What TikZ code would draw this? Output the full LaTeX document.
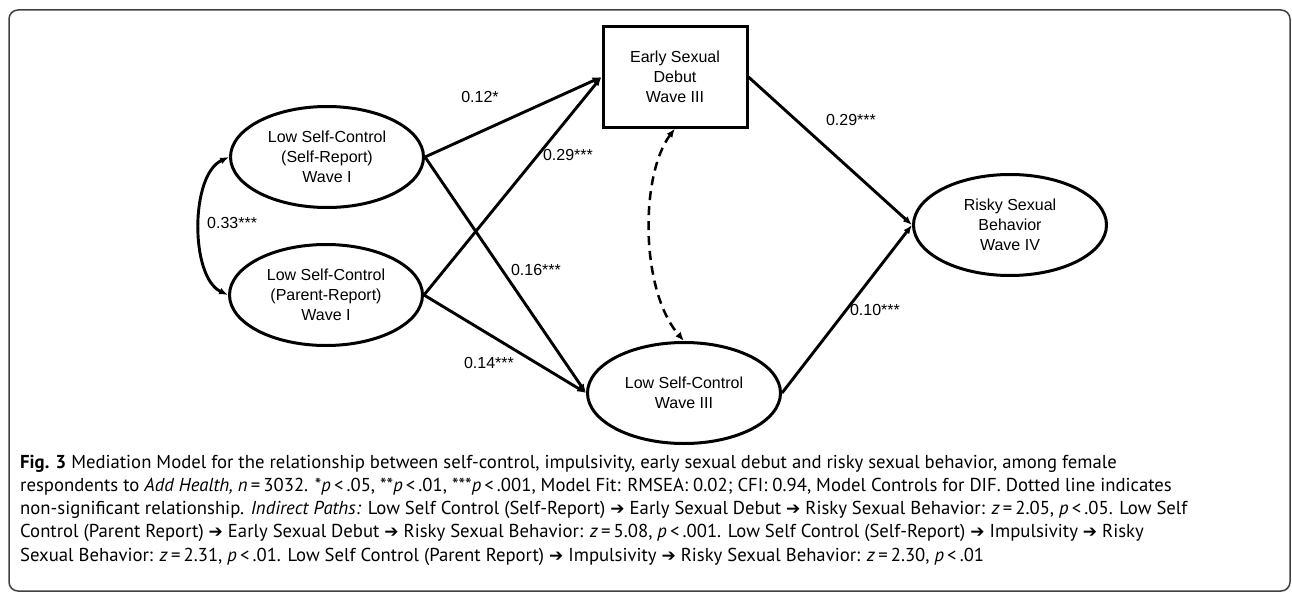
\documentclass[tikz,border=0pt]{standalone}
\usepackage{fontspec}
\setmainfont{Liberation Sans}
\newfontfamily\capfont{PT Sans}
\newfontfamily\symfont{DejaVu Sans}
\usetikzlibrary{shapes.geometric,arrows.meta}
\newcommand{\rarr}{{\symfont\fontsize{17}{17}\selectfont ➔}}
\begin{document}
\begin{tikzpicture}[x=1pt,y=-1pt,
  lv/.style={ellipse,draw,line width=3pt,minimum width=193pt,minimum height=101pt,inner sep=0pt,align=center,font=\fontsize{16}{20}\selectfont},
  ov/.style={rectangle,draw,line width=3pt,minimum width=144pt,minimum height=100pt,inner sep=0pt,align=center,font=\fontsize{16}{20}\selectfont},
  path/.style={line width=2.9pt,-{Latex[length=9pt,width=7pt]}},
  cov/.style={line width=2.9pt,{Latex[length=9pt,width=7pt]}-{Latex[length=9pt,width=7pt]}},
  ns/.style={line width=2.5pt,dash pattern=on 9pt off 6pt,{Latex[length=9pt,width=7pt]}-{Latex[length=9pt,width=7pt]}},
  coef/.style={font=\fontsize{16}{20}\selectfont,inner sep=0pt},
  capline/.style={anchor=base west,inner sep=0pt,font=\capfont\fontsize{18.7}{23}\selectfont}
]
\useasboundingbox (0,0) rectangle (1292,594);
\draw[line width=1.5pt,draw=black!75,rounded corners=9pt] (9,10) rectangle (1290,591);

\node[lv] (sr) at (327,157) {Low Self-Control\\(Self-Report)\\Wave I};
\node[lv] (pr) at (326,295) {Low Self-Control\\(Parent-Report)\\Wave I};
\node[ov] (esd) at (675,77) {Early Sexual\\Debut\\Wave III};
\node[lv] (lsc) at (684,393) {Low Self-Control\\Wave III};
\node[lv] (rsb) at (1010,225) {Risky Sexual\\Behavior\\Wave IV};

\draw[path] (sr.east) -- (esd.west);
\draw[path] (pr.east) -- (esd.west);
\draw[path] (sr.east) -- (lsc.west);
\draw[path] (pr.east) -- (lsc.west);
\draw[path] (esd.east) -- (rsb.west);
\draw[path] (lsc.east) -- (rsb.west);
\draw[cov] (sr.west) .. controls (190,175) and (190,277) .. (pr.west);
\draw[ns] (esd.south) .. controls (640,175) and (640,290) .. (lsc.north);

\node[coef] (c1) at (480,97) {0.12*};
\node[coef] (c2) at (568,155) {0.29***};
\node[coef] (c3) at (536,270) {0.16***};
\node[coef] (c4) at (489,363) {0.14***};
\node[coef] (c5) at (851,120) {0.29***};
\node[coef] (c6) at (875,310) {0.10***};
\node[coef,anchor=west] (c7) at (207,223) {0.33***};

\node[capline] (l1) at (20,468) {\textbf{Fig. 3} Mediation Model for the relationship between self-control, impulsivity, early sexual debut and risky sexual behavior, among female};
\node[capline] (l2) at (20,491.3) {respondents to \textit{Add Health, n}\,=\,3032. *\textit{p}\,<\,.05, **\textit{p}\,<\,.01, ***\textit{p}\,<\,.001, Model Fit: RMSEA: 0.02; CFI: 0.94, Model Controls for DIF. Dotted line indicates};
\node[capline] (l3) at (20,514.6) {non-significant relationship. \textit{Indirect Paths:} Low Self Control (Self-Report) \rarr{} Early Sexual Debut \rarr{} Risky Sexual Behavior: \textit{z}\,=\,2.05, \textit{p}\,<\,.05. Low Self};
\node[capline] (l4) at (20,537.9) {Control (Parent Report) \rarr{} Early Sexual Debut \rarr{} Risky Sexual Behavior: \textit{z}\,=\,5.08, \textit{p}\,<\,.001. Low Self Control (Self-Report) \rarr{} Impulsivity \rarr{} Risky};
\node[capline] (l5) at (20,561.2) {Sexual Behavior: \textit{z}\,=\,2.31, \textit{p}\,<\,.01. Low Self Control (Parent Report) \rarr{} Impulsivity \rarr{} Risky Sexual Behavior: \textit{z}\,=\,2.30, \textit{p}\,<\,.01};
\end{tikzpicture}
\end{document}
